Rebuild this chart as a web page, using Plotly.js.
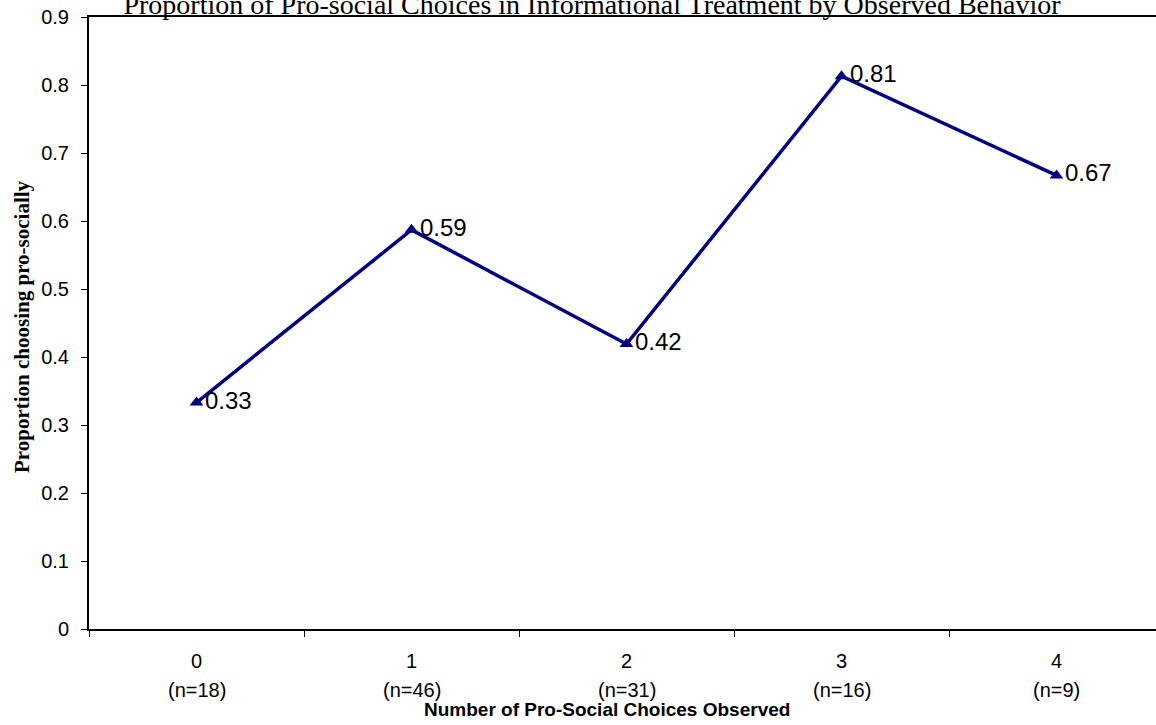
<!DOCTYPE html>
<html>
<head>
<meta charset="utf-8">
<script src="https://cdn.plot.ly/plotly-3.0.1.min.js"></script>
<style>
html,body{margin:0;padding:0;overflow:hidden;background:#fff;width:1156px;height:725px;}
#chart{position:absolute;top:-20px;left:0;width:1164px;height:745px;}
</style>
</head>
<body>
<div id="chart"></div>
<script>
var categories = ['0', '1', '2', '3', '4'];
var sampleSizes = ['(n=18)', '(n=46)', '(n=31)', '(n=16)', '(n=9)'];
var proportions = [0.333, 0.587, 0.419, 0.813, 0.667];
var yTicks = [0, 0.1, 0.2, 0.3, 0.4, 0.5, 0.6, 0.7, 0.8, 0.9];
var yTickLabels = ['0', '0.1', '0.2', '0.3', '0.4', '0.5', '0.6', '0.7', '0.8', '0.9'];

var sans = 'Arial, "Liberation Sans", sans-serif';
var serif = '"Times New Roman", "Liberation Serif", serif';
var navy = '#000080';

var trace = {
  x: categories,
  y: proportions,
  type: 'scatter',
  mode: 'lines+markers+text',
  line: {color: navy, width: 3.5},
  marker: {symbol: 'triangle-up', size: 12, color: navy},
  text: proportions.map(function(v){ return v.toFixed(2); }),
  textposition: 'middle right',
  textfont: {family: sans, size: 24, color: '#000'},
  cliponaxis: false,
  hoverinfo: 'x+y'
};

var annotations = sampleSizes.map(function(s, i){
  return {
    x: categories[i], xref: 'x', y: 0, yref: 'paper',
    text: s, showarrow: false, yanchor: 'middle', yshift: -61,
    font: {family: sans, size: 20, color: '#000'}
  };
});
annotations.push({
  text: '<b>Number of Pro-Social Choices Observed</b>',
  xref: 'paper', x: (607 - 89) / 1075, yref: 'paper', y: 0,
  xanchor: 'center', yanchor: 'middle', yshift: -80, showarrow: false,
  font: {family: sans, size: 19, color: '#000'}
});
annotations.push({
  text: '<b>Proportion choosing pro-socially</b>',
  xref: 'paper', x: 0, xshift: -67, yref: 'paper', y: 0.5, yshift: -4,
  xanchor: 'center', yanchor: 'middle', textangle: -90, showarrow: false,
  font: {family: serif, size: 21, color: '#000'}
});

var layout = {
  width: 1164,
  height: 745,
  margin: {l: 89, r: 0, t: 37, b: 96},
  paper_bgcolor: '#fff',
  plot_bgcolor: '#fff',
  showlegend: false,
  title: {
    text: 'Proportion of Pro-social Choices in Informational Treatment by Observed Behavior',
    font: {family: serif, size: 28, color: '#000'},
    x: 592 / 1164, xanchor: 'center', xref: 'container',
    y: 1 - 24 / 745, yanchor: 'middle', yref: 'container'
  },
  xaxis: {
    type: 'category',
    range: [-0.5, 4.5],
    tickson: 'boundaries',
    ticks: 'outside', ticklen: 6, tickwidth: 1, tickcolor: '#000',
    ticklabelstandoff: 13,
    showline: true, linecolor: '#000', linewidth: 2, mirror: true,
    showgrid: false, zeroline: false,
    tickfont: {family: sans, size: 20, color: '#000'},
    fixedrange: true
  },
  yaxis: {
    range: [0, 0.9],
    tickvals: yTicks, ticktext: yTickLabels,
    ticks: 'outside', ticklen: 6, tickwidth: 1, tickcolor: '#000',
    ticklabelstandoff: 8,
    showline: true, linecolor: '#000', linewidth: 2, mirror: true,
    showgrid: false, zeroline: false,
    tickfont: {family: sans, size: 20, color: '#000'},
    fixedrange: true
  },
  annotations: annotations
};

Plotly.newPlot('chart', [trace], layout, {displayModeBar: false, staticPlot: true});
</script>
</body>
</html>
